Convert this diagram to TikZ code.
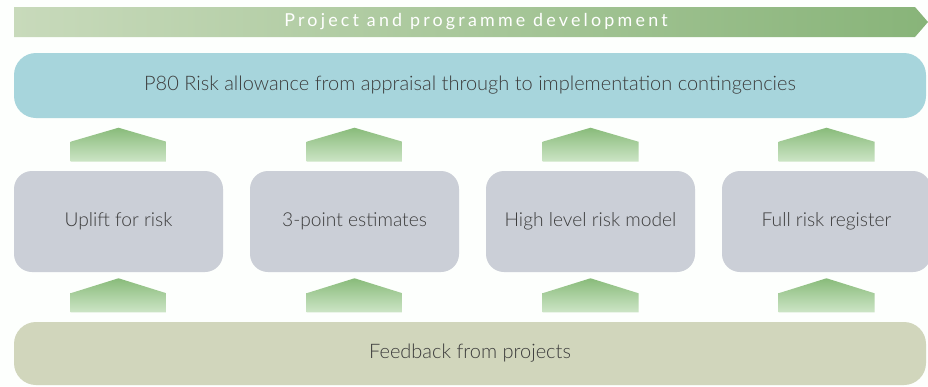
\documentclass[tikz,border=0pt]{standalone}
\usepackage{fontspec}
\setmainfont{Lato}[UprightFont=* Light]
\newfontfamily\bannerfont{Lato}[LetterSpace=18]
\usetikzlibrary{positioning}
\definecolor{bannerL}{HTML}{C8DABB}
\definecolor{bannerR}{HTML}{88B479}
\definecolor{allowblue}{HTML}{A7D5DC}
\definecolor{methodgray}{HTML}{CBCFD7}
\definecolor{feedgreen}{HTML}{D1D6BC}
\definecolor{arrowtop}{HTML}{88BB7A}
\definecolor{arrowbot}{HTML}{CDE5C6}
\definecolor{txt}{HTML}{3C3C3C}
\begin{document}
\begin{tikzpicture}[x=0.75pt, y=-0.75pt]
            \tikzstyle{every node}=[inner sep=0pt, text=txt, font=\fontsize{15}{18}\selectfont]
            \tikzstyle{method}=[rectangle, rounded corners=13.5pt, fill=methodgray, minimum width=156.75pt, minimum height=75.75pt, font=\fontsize{14.4}{17}\selectfont]
            \tikzstyle{uparrow}=[top color=arrowtop, bottom color=arrowbot, draw=none]

            \useasboundingbox (0,0) rectangle (928,386);
            \fill[white!97!green!30] (0,0) rectangle (928,386);

            % banner along the top
            \shade[left color=bannerL, right color=bannerR] (14,7) -- (915,7) -- (928,22) -- (915,37) -- (14,37) -- cycle;
            \node[text=white, font=\bannerfont\fontsize{13.4}{15}\selectfont] (banner) at (476,22) {Project and programme development};

            \node[rectangle, rounded corners=16.5pt, fill=allowblue, minimum width=684pt, minimum height=48.75pt] (p80) at (470,85.5) {P80 Risk allowance from appraisal through to implementation contingencies};

            \node[method] (uplift) at (118.5,221.5) {Uplift for risk};
            \node[method] (threept) at (354.5,221.5) {3-point estimates};
            \node[method] (highlvl) at (590.5,221.5) {High level risk model};
            \node[method] (register) at (826.5,221.5) {Full risk register};

            \node[rectangle, rounded corners=16.5pt, fill=feedgreen, minimum width=684pt, minimum height=47.25pt] (feedback) at (470,353.5) {Feedback from projects};

            \foreach \b in {uplift, threept, highlvl, register} {
                \shade[uparrow, shift={(\b.north)}] (-48,-9) -- (-48,-29) -- (0,-43) -- (48,-29) -- (48,-9) -- cycle;
                \shade[uparrow, shift={(\b.south)}] (-48,40) -- (-48,21) -- (0,6) -- (48,21) -- (48,40) -- cycle;
            }
\end{tikzpicture}
\end{document}
